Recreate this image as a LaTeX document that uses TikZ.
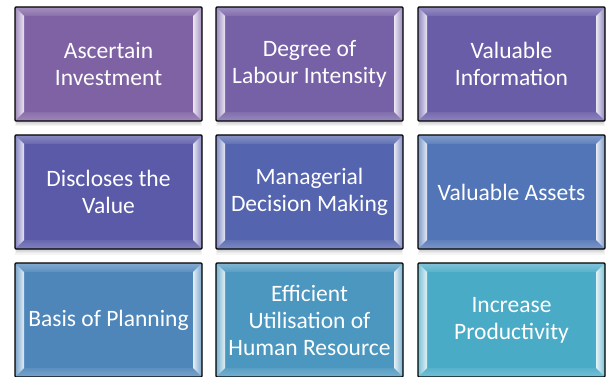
\documentclass[tikz,border=0pt]{standalone}
\usepackage{fontspec}
\setmainfont{Carlito}
\begin{document}
\definecolor{tA}{HTML}{7F62A3}
\definecolor{tB}{HTML}{7661A6}
\definecolor{tC}{HTML}{6A5DA8}
\definecolor{tD}{HTML}{5A5AA9}
\definecolor{tE}{HTML}{5464AE}
\definecolor{tF}{HTML}{5175B6}
\definecolor{tG}{HTML}{4E86BA}
\definecolor{tH}{HTML}{4B97C0}
\definecolor{tI}{HTML}{4AABC7}
\tikzset{
  tiletext/.style={draw=black, line width=1.4pt, rounded corners=1pt,
    minimum width=187pt, minimum height=114pt, inner sep=0pt,
    text=white, align=center,
    font=\fontsize{23.5}{27}\selectfont},
}
% #1 name, #2 left x, #3 top y, #4 colour, #5 label
\newcommand\tile[5]{%
  \foreach \k in {1,...,5}
    \fill[black, opacity=0.045]
      (#2+3-\k*0.6, #3+4) rectangle (#2+184+\k*0.6, #3+114+\k*1.1);
  \fill[#4] (#2,#3) rectangle (#2+187,#3+114);
  % top and bottom bevels
  \shade[top color=#4!70!white, bottom color=#4!92!white]
    (#2,#3) -- (#2+187,#3) -- (#2+178,#3+9) -- (#2+9,#3+9) -- cycle;
  \shade[top color=#4!92!white, bottom color=#4!75!white]
    (#2,#3+114) -- (#2+187,#3+114) -- (#2+178,#3+105) -- (#2+9,#3+105) -- cycle;
  % side bevels, brightest at the inner edge
  \shade[left color=#4!75!white, right color=#4!15!white]
    (#2,#3) -- (#2+9,#3+9) -- (#2+9,#3+105) -- (#2,#3+114) -- cycle;
  \shade[right color=#4!75!white, left color=#4!15!white]
    (#2+187,#3) -- (#2+178,#3+9) -- (#2+178,#3+105) -- (#2+187,#3+114) -- cycle;
  \node[tiletext] (#1) at (#2+93.5,#3+57) {#5};
}
\begin{tikzpicture}[x=1pt,y=-1pt]
  \useasboundingbox (0,0) rectangle (608,377);
  \tile{t1}{15}{7}{tA}{Ascertain\\Investment}
  \tile{t2}{216}{7}{tB}{Degree of\\Labour Intensity}
  \tile{t3}{418}{7}{tC}{Valuable\\Information}
  \tile{t4}{15}{135}{tD}{Discloses the\\Value}
  \tile{t5}{216}{135}{tE}{Managerial\\Decision Making}
  \tile{t6}{418}{135}{tF}{Valuable Assets}
  \tile{t7}{15}{263}{tG}{Basis of Planning}
  \tile{t8}{216}{263}{tH}{Efficient\\Utilisation of\\Human Resource}
  \tile{t9}{418}{263}{tI}{Increase\\Productivity}
\end{tikzpicture}
\end{document}
